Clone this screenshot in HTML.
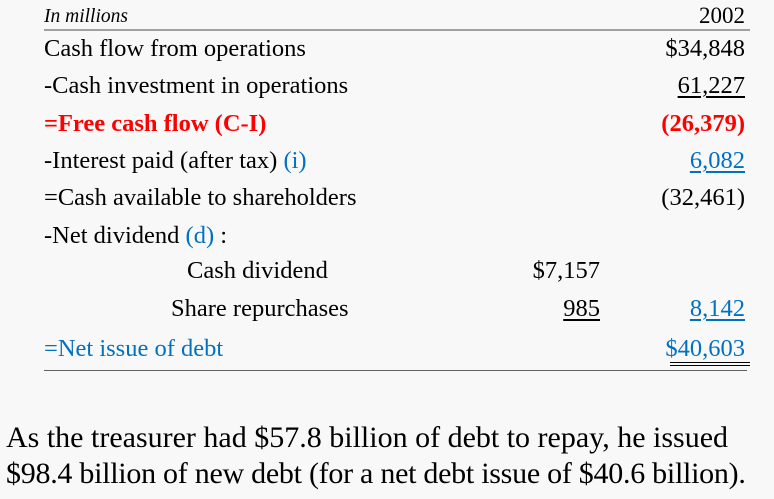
<!DOCTYPE html>
<html><head><meta charset="utf-8"><style>
body{margin:0;width:774px;height:499px;background:#f8f8f8;font-family:"Liberation Serif","Times New Roman",serif;position:relative;overflow:hidden}
.t{position:absolute;font-size:24.5px;line-height:26px;white-space:nowrap;color:#000}
.r{text-align:right}
.b{color:#0070c0}
.red{color:#ff0000;font-weight:bold}
.u{text-decoration:underline;text-underline-offset:3px;text-decoration-thickness:1.5px}
</style></head><body>
<div class="t" style="left:44px;top:6px;font-size:19.5px;line-height:22px;font-style:italic">In millions</div>
<div class="t r" style="right:29px;top:3px;font-size:23px">2002</div>
<div style="position:absolute;left:44px;width:706px;top:29px;height:2px;background:#a0a0a0"></div>

<div class="t" style="left:44px;top:36px">Cash flow from operations</div>
<div class="t r" style="right:29px;top:36px">$34,848</div>

<div class="t" style="left:44px;top:73px">-Cash investment in operations</div>
<div class="t r u" style="right:29px;top:73px">61,227</div>

<div class="t red" style="left:44px;top:111px">=Free cash flow (C-I)</div>
<div class="t r red" style="right:29px;top:111px">(26,379)</div>

<div class="t" style="left:44px;top:148px">-Interest paid (after tax) <span class="b">(i)</span></div>
<div class="t r b u" style="right:29px;top:148px">6,082</div>

<div class="t" style="left:44px;top:185px">=Cash available to shareholders</div>
<div class="t r" style="right:29px;top:185px">(32,461)</div>

<div class="t" style="left:44px;top:223px">-Net dividend <span class="b">(d)</span> :</div>

<div class="t" style="left:187px;top:258px">Cash dividend</div>
<div class="t r" style="right:174px;top:258px">$7,157</div>

<div class="t" style="left:171px;top:296px">Share repurchases</div>
<div class="t r u" style="right:174px;top:296px">985</div>
<div class="t r b u" style="right:29px;top:296px">8,142</div>

<div class="t b" style="left:44px;top:336px">=Net issue of debt</div>
<div class="t r b" style="right:29px;top:336px">$40,603</div>
<div style="position:absolute;left:670px;width:80px;top:362px;border-top:1.5px solid #000;border-bottom:1.5px solid #000;height:1.5px"></div>
<div style="position:absolute;left:44px;width:703px;top:370px;height:1px;background:#606060"></div>

<div class="t" style="left:6px;top:421px;font-size:30px;line-height:33px">As the treasurer had $57.8 billion of debt to repay, he issued</div>
<div class="t" style="left:6px;top:457px;font-size:30px;line-height:33px;letter-spacing:-0.27px">$98.4 billion of new debt (for a net debt issue of $40.6 billion).</div>
</body></html>
